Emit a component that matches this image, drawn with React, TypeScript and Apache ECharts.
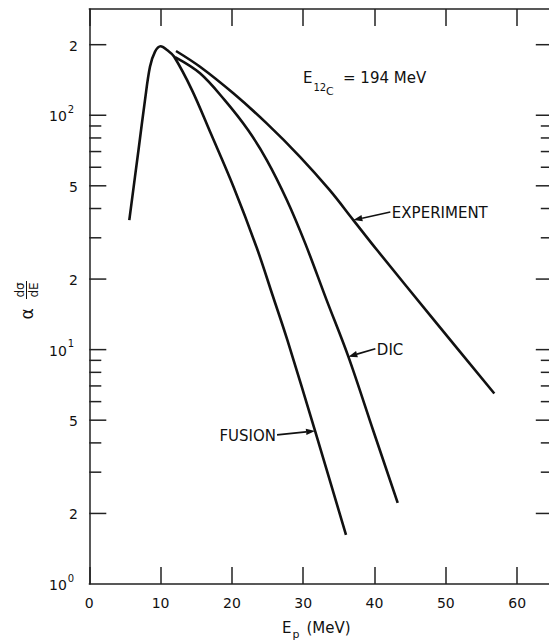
import React, { useEffect, useRef } from 'react';
import * as echarts from 'echarts';

// ---- data ----
// FUSION curve (includes the common rising edge and the peak)
const fusionE = [5.61, 6.9, 7.81, 8.51, 9.22, 10.01, 10.9, 11.88, 14.4, 17.03, 20.22, 23.52, 25.69, 27.77, 31.66, 36.0];
const fusionY = [35.7, 71.1, 116, 161, 187, 197, 190, 178, 128, 83.7, 49.5, 27.0, 17.1, 11.0, 4.5, 1.62];
// DIC curve
const dicE = [12.02, 15.53, 18.99, 22.26, 24.89, 27.7, 30.28, 33.27, 36.33, 39.79, 43.25];
const dicY = [177, 151, 116, 86.5, 64.4, 43.5, 28.4, 16.3, 9.33, 4.54, 2.22];
// EXPERIMENT curve
const expE = [12.16, 15.53, 20.2, 24.88, 29.55, 33.69, 37.03, 40.35, 48.49, 56.8];
const expY = [188, 161, 124, 92.3, 66.5, 48.0, 35.7, 26.6, 13.2, 6.5];

// axes
const X_MIN = 0;
const X_MAX = 65;
const X_INTERVAL = 10;
const Y_MIN = 1;
const Y_MAX = 284;
const yTickValues = [2, 3, 4, 5, 6, 7, 8, 9, 10, 20, 30, 40, 50, 60, 70, 80, 90, 100, 200];
const yMajorTicks = [2, 5, 10, 20, 50, 100, 200];
const yLabelValues = [1, 2, 5, 10, 20, 50, 100, 200];
const yLabelBase = ['10', '2', '5', '10', '2', '5', '10', '2'];
const yLabelExp = ['0', '', '', '1', '', '', '2', ''];

// annotations (arrow tips on the curves, in data units)
const annotationNames = ['EXPERIMENT', 'DIC', 'FUSION'];
const annotationTipE = [37.03, 36.33, 31.66];
const annotationTipY = [35.7, 9.33, 4.5];

const FONT = '"DejaVu Sans", "Liberation Sans", sans-serif';
const INK = '#111';
const AXIS = '#222';

function arrow(tip: number[], tail: number[]) {
  const dx = tip[0] - tail[0];
  const dy = tip[1] - tail[1];
  const L = Math.hypot(dx, dy);
  const ux = dx / L, uy = dy / L;
  const nx = -uy, ny = ux;
  const hl = 9, hw = 3.2;
  const bx = tip[0] - ux * hl, by = tip[1] - uy * hl;
  return [
    { type: 'line', silent: true, shape: { x1: tail[0], y1: tail[1], x2: bx, y2: by }, style: { stroke: INK, lineWidth: 1.6 } },
    {
      type: 'polygon', silent: true,
      shape: { points: [[tip[0], tip[1]], [bx + nx * hw, by + ny * hw], [bx - nx * hw, by - ny * hw]] },
      style: { fill: INK },
    },
  ];
}

export default function App() {
  const ref = useRef<HTMLDivElement>(null);

  useEffect(() => {
    if (!ref.current) return;
    const chart = echarts.init(ref.current, undefined, { renderer: 'svg' });

    const axisLine = { show: true, onZero: false, lineStyle: { color: AXIS, width: 1.5 } };
    const xTick = { show: true, inside: true, length: 17, lineStyle: { color: AXIS, width: 1.5 } };

    const lineSeries = (name: string, xs: number[], ys: number[]) => ({
      type: 'line',
      name,
      xAxisIndex: 0,
      yAxisIndex: 0,
      data: xs.map((x, i) => [x, ys[i]]),
      smooth: 0.35,
      symbol: 'none',
      showSymbol: false,
      silent: true,
      lineStyle: { color: INK, width: 2.6 },
    });

    const option: any = {
      animation: false,
      backgroundColor: '#fff',
      grid: { left: 89.3, top: 9, width: 463.5, height: 575 },
      xAxis: [
        {
          type: 'value', min: X_MIN, max: X_MAX, interval: X_INTERVAL, position: 'bottom',
          axisLine, axisTick: xTick,
          axisLabel: {
            show: true, margin: 12, color: INK, fontSize: 14, fontFamily: FONT,
            formatter: (v: number) => (v % X_INTERVAL === 0 && v <= 60 ? String(v) : ''),
          },
          splitLine: { show: false },
        },
        {
          type: 'value', min: X_MIN, max: X_MAX, interval: X_INTERVAL, position: 'top',
          axisLine, axisTick: xTick, axisLabel: { show: false }, splitLine: { show: false },
        },
      ],
      yAxis: [
        {
          type: 'log', logBase: 10, min: Y_MIN, max: Y_MAX, position: 'left',
          axisLine, axisTick: { show: false }, axisLabel: { show: false },
          splitLine: { show: false }, minorTick: { show: false },
        },
        {
          type: 'log', logBase: 10, min: Y_MIN, max: Y_MAX, position: 'right',
          axisLine, axisTick: { show: false }, axisLabel: { show: false },
          splitLine: { show: false }, minorTick: { show: false },
        },
      ],
      series: [
        lineSeries('FUSION', fusionE, fusionY),
        lineSeries('DIC', dicE, dicY),
        lineSeries('EXPERIMENT', expE, expY),
        {
          type: 'custom',
          name: 'yticks',
          xAxisIndex: 0,
          yAxisIndex: 0,
          clip: false,
          silent: true,
          data: yTickValues.map((v) => [X_MIN, v, yMajorTicks.indexOf(v) >= 0 ? 1 : 0]),
          encode: { x: 0, y: 1 },
          renderItem: (_p: any, api: any) => {
            const v = api.value(1);
            const major = api.value(2) === 1;
            const len = major ? 17 : 12;
            const pL = api.coord([X_MIN, v]);
            const pR = api.coord([X_MAX, v]);
            const st = { stroke: AXIS, lineWidth: 1.5 };
            return {
              type: 'group',
              children: [
                { type: 'line', shape: { x1: pL[0], y1: pL[1], x2: pL[0] + len, y2: pL[1] }, style: st },
                { type: 'line', shape: { x1: pR[0] - len, y1: pR[1], x2: pR[0], y2: pR[1] }, style: st },
              ],
            };
          },
        },
        {
          type: 'custom',
          name: 'ylabels',
          xAxisIndex: 0,
          yAxisIndex: 0,
          clip: false,
          silent: true,
          data: yLabelValues.map((v, i) => [X_MIN, v, i]),
          encode: { x: 0, y: 1 },
          renderItem: (_p: any, api: any) => {
            const v = api.value(1);
            const i = api.value(2);
            const p = api.coord([X_MIN, v]);
            const base = yLabelBase[i];
            const exp = yLabelExp[i];
            if (exp) {
              return {
                type: 'group',
                children: [
                  {
                    type: 'text', x: p[0] - 22.5, y: p[1] + 1,
                    style: { text: base, fill: INK, font: `14px ${FONT}`, align: 'right', verticalAlign: 'middle' },
                  },
                  {
                    type: 'text', x: p[0] - 21.5, y: p[1] - 6,
                    style: { text: exp, fill: INK, font: `10px ${FONT}`, align: 'left', verticalAlign: 'middle' },
                  },
                ],
              };
            }
            return {
              type: 'text', x: p[0] - 11.5, y: p[1] + 1,
              style: { text: base, fill: INK, font: `14px ${FONT}`, align: 'right', verticalAlign: 'middle' },
            };
          },
        },
      ],
    };

    chart.setOption(option);

    // annotations with arrows, anchored to the curves via the chart's coordinate system
    const tailOffsets = [[37, -8], [27, -8], [-38, 4]];
    const graphics: any[] = [];
    annotationNames.forEach((name, i) => {
      const tip = chart.convertToPixel({ xAxisIndex: 0, yAxisIndex: 0 }, [annotationTipE[i], annotationTipY[i]]) as number[];
      const tail = [tip[0] + tailOffsets[i][0], tip[1] + tailOffsets[i][1]];
      graphics.push(...arrow(tip, tail));
      const right = tailOffsets[i][0] < 0;
      graphics.push({
        type: 'text', silent: true,
        x: right ? tail[0] - 1 : tail[0] + 1.5,
        y: tail[1] + 1,
        style: { text: name, fill: INK, font: `15px ${FONT}`, align: right ? 'right' : 'left', verticalAlign: 'middle' },
      });
    });

    // E_{12C} = 194 MeV
    graphics.push(
      { type: 'text', silent: true, x: 303, y: 78, style: { text: 'E', fill: INK, font: `15px ${FONT}`, align: 'left', verticalAlign: 'middle' } },
      { type: 'text', silent: true, x: 313.5, y: 87.5, style: { text: '12', fill: INK, font: `10px ${FONT}`, align: 'left', verticalAlign: 'middle' } },
      { type: 'text', silent: true, x: 326, y: 91, style: { text: 'C', fill: INK, font: `11px ${FONT}`, align: 'left', verticalAlign: 'middle' } },
      { type: 'text', silent: true, x: 343, y: 78, style: { text: '= 194 MeV', fill: INK, font: `15px ${FONT}`, align: 'left', verticalAlign: 'middle' } },
    );

    // x-axis title: E_p (MeV)
    graphics.push(
      { type: 'text', silent: true, x: 282, y: 628, style: { text: 'E', fill: INK, font: `15px ${FONT}`, align: 'left', verticalAlign: 'middle' } },
      { type: 'text', silent: true, x: 292.5, y: 634, style: { text: 'p', fill: INK, font: `11px ${FONT}`, align: 'left', verticalAlign: 'middle' } },
      { type: 'text', silent: true, x: 306.5, y: 628, style: { text: '(MeV)', fill: INK, font: `15px ${FONT}`, align: 'left', verticalAlign: 'middle' } },
    );

    // y-axis title: α dσ/dE (rotated)
    graphics.push({
      type: 'group', silent: true, x: 26.5, y: 300, rotation: Math.PI / 2,
      children: [
        { type: 'text', x: -14, y: 0, style: { text: 'α', fill: INK, font: `17px ${FONT}`, align: 'center', verticalAlign: 'middle' } },
        { type: 'text', x: 10, y: -1, style: { text: 'dσ', fill: INK, font: `12px ${FONT}`, align: 'center', verticalAlign: 'bottom' } },
        { type: 'line', shape: { x1: 1, y1: 0, x2: 19, y2: 0 }, style: { stroke: INK, lineWidth: 1 } },
        { type: 'text', x: 10, y: 1.5, style: { text: 'dE', fill: INK, font: `12px ${FONT}`, align: 'center', verticalAlign: 'top' } },
      ],
    });

    chart.setOption({ graphic: graphics });

    return () => chart.dispose();
  }, []);

  return (
    <div
      ref={ref}
      style={{ position: 'fixed', left: 0, top: 0, width: 570, height: 640, background: '#fff' }}
    />
  );
}
